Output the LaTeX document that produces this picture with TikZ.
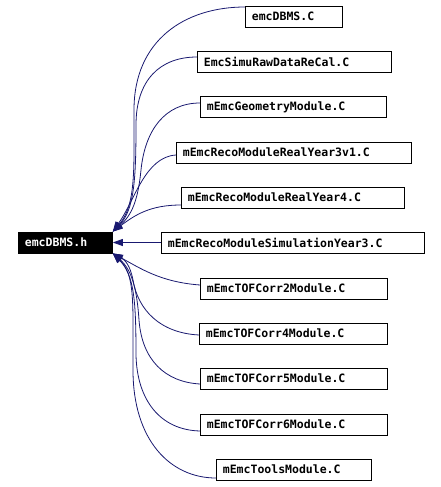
\documentclass[tikz,border=0pt]{standalone}
\usepackage{fontspec}
\setmonofont{DejaVu Sans Mono}
\usetikzlibrary{arrows.meta}
\definecolor{edgeblue}{HTML}{191970}

\begin{document}
\begin{tikzpicture}[x=1pt, y=-1pt,
    filebox/.style={draw, rectangle, anchor=west, line width=0.8pt, inner xsep=6.5pt, inner ysep=0pt,
        minimum height=21pt, align=left, font=\fontsize{11.5}{13}\selectfont\ttfamily\bfseries},
    incl/.style={draw=edgeblue, line width=0.8pt, -{Triangle[length=10pt, width=7pt]}}]
    \useasboundingbox (0,0) rectangle (441,487);

    % Header file
    \node[filebox, fill=black, text=white, text width=81pt] (header) at (18,242.5) {emcDBMS.h};

    % Including files
    \node[filebox, text width=84pt] (emcdbmsc) at (245,16.5) {emcDBMS.C};
    \node[filebox, text width=181pt] (simuraw) at (197,61.5) {EmcSimuRawDataReCal.C};
    \node[filebox, text width=173pt] (geometry) at (200,107) {mEmcGeometryModule.C};
    \node[filebox, text width=222pt] (recoy3) at (176,152.5) {mEmcRecoModuleRealYear3v1.C};
    \node[filebox, text width=210pt] (recoy4) at (181,197.5) {mEmcRecoModuleRealYear4.C};
    \node[filebox, text width=250pt] (simuy3) at (161,242.5) {mEmcRecoModuleSimulationYear3.C};
    \node[filebox, text width=174pt] (tof2) at (200,288.5) {mEmcTOFCorr2Module.C};
    \node[filebox, text width=175pt] (tof4) at (199,333.5) {mEmcTOFCorr4Module.C};
    \node[filebox, text width=174pt] (tof5) at (200,378.5) {mEmcTOFCorr5Module.C};
    \node[filebox, text width=174pt] (tof6) at (200,424.5) {mEmcTOFCorr6Module.C};
    \node[filebox, text width=142pt] (tools) at (216,469.5) {mEmcToolsModule.C};

    % Include edges
    \draw[incl] ([yshift=9.5pt]emcdbmsc.west) .. controls (185,7) and (134,40) .. (134,110)
        .. controls (134,170) and (136,205) .. (header.north east);
    \draw[incl] ([yshift=4.5pt]simuraw.west) .. controls (160,57) and (136,80) .. (136,125)
        .. controls (136,180) and (134,210) .. (header.north east);
    \draw[incl] ([yshift=4pt]geometry.west) .. controls (165,103) and (145,130) .. (141,170)
        .. controls (138,200) and (132,215) .. (header.north east);
    \draw[incl] ([yshift=-2.5pt]recoy3.west) .. controls (145,157) and (135,200) .. (header.north east);
    \draw[incl] ([yshift=-7.5pt]recoy4.west) .. controls (150,205) and (135,215) .. (header.north east);
    \draw[incl] (simuy3.west) -- (header.east);
    \draw[incl] ([yshift=3.5pt]tof2.west) .. controls (160,282) and (140,268) .. (header.south east);
    \draw[incl] ([yshift=-1.5pt]tof4.west) .. controls (160,333) and (138,310) .. (133,280)
        .. controls (130,265) and (125,260) .. (header.south east);
    \draw[incl] ([yshift=-5.5pt]tof5.west) .. controls (165,382) and (142,360) .. (139,320)
        .. controls (137,290) and (132,270) .. (header.south east);
    \draw[incl] ([yshift=-6.5pt]tof6.west) .. controls (160,430) and (137,400) .. (136,355)
        .. controls (136,300) and (134,275) .. (header.south east);
    \draw[incl] ([yshift=-8.5pt]tools.west) .. controls (170,478) and (133,440) .. (133,370)
        .. controls (133,300) and (135,275) .. (header.south east);
\end{tikzpicture}
\end{document}
